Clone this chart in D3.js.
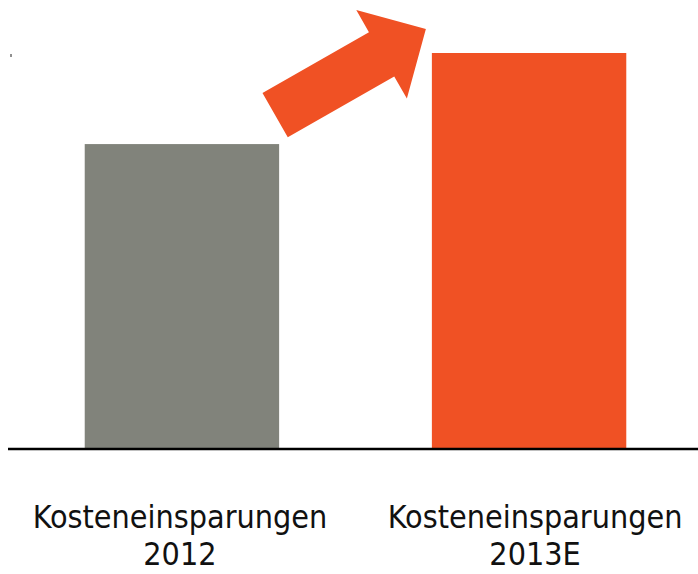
<!DOCTYPE html>
<html>
<head>
<meta charset="utf-8">
<script src="https://cdn.jsdelivr.net/npm/d3@7"></script>
<style>
  body { margin: 0; background: #fff; }
  .label { font-family: "DejaVu Sans Condensed", "DejaVu Sans", sans-serif; fill: #111; }
</style>
</head>
<body>
<div id="savings"></div>
<script>
// data
const categories = ['2012', '2013E'];
const labelTop = ['Kosteneinsparungen', 'Kosteneinsparungen'];
const labelBottom = ['2012', '2013E'];
const values = [77, 100];
const barColors = ['#81837b', '#f05124'];

// constants
const containerSelector = '#savings';
const totalWidth = 698;
const totalHeight = 574;
const baseY = 449;
const topY = 53;

let xScale, yScale, $svg, $g;

function init() {
  xScale = d3.scaleBand()
    .domain(categories)
    .range([8, 703])
    .paddingInner(0.44)
    .paddingOuter(0.221);

  yScale = d3.scaleLinear()
    .domain([0, d3.max(values)])
    .range([baseY, topY]);

  $svg = d3.select(containerSelector).append('svg')
    .attr('width', totalWidth)
    .attr('height', totalHeight);

  $g = $svg.append('g');

  // bars
  $g.selectAll('rect.bar')
    .data(categories)
    .enter()
    .append('rect')
    .classed('bar', true)
    .attr('x', d => xScale(d))
    .attr('y', (d, i) => yScale(values[i]))
    .attr('width', xScale.bandwidth())
    .attr('height', (d, i) => yScale(0) - yScale(values[i]))
    .style('fill', (d, i) => barColors[i]);

  // baseline
  $g.append('line')
    .attr('x1', 8)
    .attr('x2', totalWidth)
    .attr('y1', yScale(0))
    .attr('y2', yScale(0))
    .style('stroke', '#000')
    .style('stroke-width', 2.6);

  // tiny leftover tick at the top of the value axis
  $g.append('line')
    .attr('x1', 11)
    .attr('x2', 11)
    .attr('y1', yScale(d3.max(values)) + 1)
    .attr('y2', yScale(d3.max(values)) + 4)
    .style('stroke', '#222')
    .style('stroke-width', 1);

  drawArrow();

  // category labels
  let $labels = $g.selectAll('g.cat')
    .data(categories)
    .enter()
    .append('g')
    .classed('cat', true)
    .attr('transform', (d, i) => `translate(${xScale(d) + xScale.bandwidth() / 2 + (i ? 6 : -2)}, 0)`);

  $labels.append('text')
    .classed('label', true)
    .attr('text-anchor', 'middle')
    .attr('y', 528)
    .style('font-size', '32px')
    .text((d, i) => labelTop[i]);

  $labels.append('text')
    .classed('label', true)
    .attr('text-anchor', 'middle')
    .attr('y', 565)
    .style('font-size', '32px')
    .text((d, i) => labelBottom[i]);
}

function drawArrow() {
  // arrow from above the 2012 bar to the corner of the 2013E bar
  let bw = xScale.bandwidth();
  let tail = [xScale(categories[0]) + bw - 4, yScale(values[0]) - 29];
  let tip = [xScale(categories[1]) - 6, yScale(values[1]) - 24];

  let dx = tip[0] - tail[0], dy = tip[1] - tail[1];
  let len = Math.hypot(dx, dy);
  let u = [dx / len, dy / len];
  let n = [-u[1], u[0]];
  let shaft = 25.5, head = 51, headLen = 51;

  let pt = (a, b) => [tail[0] + u[0] * a + n[0] * b, tail[1] + u[1] * a + n[1] * b];
  let neck = len - headLen;
  let pts = [
    pt(0, -shaft),
    pt(neck, -shaft),
    pt(neck, -head),
    pt(len, 0),
    pt(neck, head),
    pt(neck, shaft),
    pt(0, shaft)
  ];

  $g.append('path')
    .attr('d', d3.line()(pts) + 'Z')
    .style('fill', barColors[1]);
}

init();
</script>
</body>
</html>
